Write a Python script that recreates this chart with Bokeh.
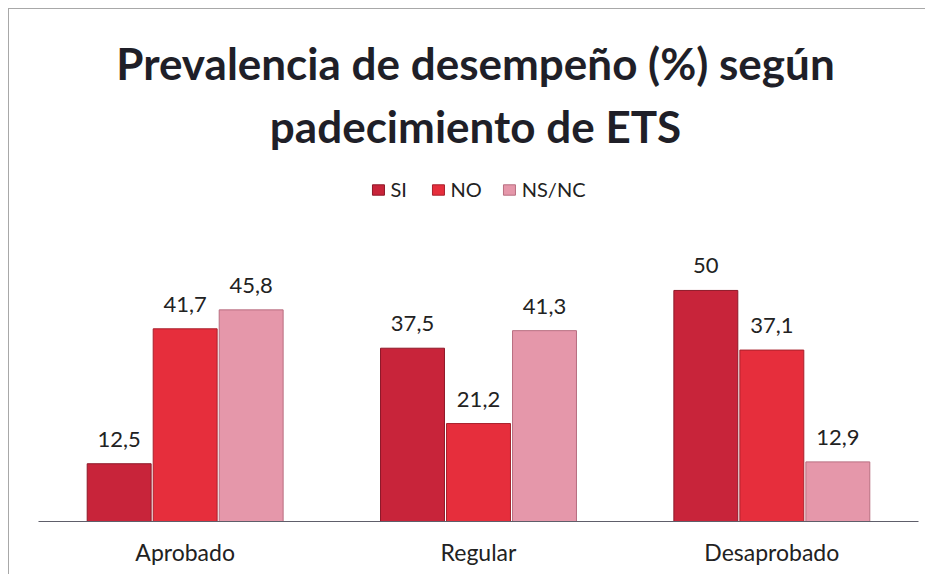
from bokeh.plotting import figure
from bokeh.models import ColumnDataSource, Legend, LegendItem, Label, FactorRange, Range1d
from bokeh.transform import dodge
from bokeh.core.properties import value
from bokeh.embed import file_html
from bokeh.resources import INLINE

categories = ["Aprobado", "Regular", "Desaprobado"]
series_names = ["SI", "NO", "NS/NC"]
si = [12.5, 37.5, 50]
no = [41.7, 21.2, 37.1]
nsnc = [45.8, 41.3, 12.9]
colors = ["#C8243A", "#E62E3C", "#E597AA"]
line_colors = ["#8E1828", "#A8202C", "#B86E80"]
title_lines = ["Prevalencia de desempeño (%) según", "padecimiento de ETS"]

FONT = "Lato"


def fmt(v):
    return f"{v:g}".replace(".", ",")


series = [si, no, nsnc]
data = {"cat": categories}
for name, vals in zip(series_names, series):
    data[name] = vals
    data[name + "_lbl"] = [fmt(v) for v in vals]
src = ColumnDataSource(data)

p = figure(width=917, height=566, x_range=FactorRange(*categories), y_range=Range1d(0, 110.8),
           output_backend="svg", toolbar_location=None,
           min_border_left=29, min_border_right=8, min_border_bottom=54, min_border_top=0)
p.margin = (8, 0, 0, 8)
p.styles = {"border-left": "1px solid #A8A8A8", "border-top": "1px solid #A8A8A8"}
p.outline_line_color = None
p.background_fill_color = "white"
p.border_fill_color = "white"
p.xgrid.visible = False
p.ygrid.visible = False
p.yaxis.visible = False

p.xaxis.axis_line_color = "#5E5E6A"
p.xaxis.axis_line_width = 1.2
p.xaxis.major_tick_line_color = None
p.xaxis.minor_tick_line_color = None
p.xaxis.major_label_text_font = FONT
p.xaxis.major_label_text_font_size = "23px"
p.xaxis.major_label_text_color = "#222222"
p.xaxis.major_label_standoff = 10
p.x_range.range_padding = 0

offsets = [-0.225, 0.0, 0.225]
items = []
for name, off, col, lc in zip(series_names, offsets, colors, line_colors):
    r = p.vbar(x=dodge("cat", off, range=p.x_range), top=name, width=0.218, bottom=0,
               source=src, fill_color=col, line_color=lc, line_width=1)
    p.text(x=dodge("cat", off, range=p.x_range), y=name, text=name + "_lbl", source=src,
           text_align="center", text_baseline="bottom", y_offset=-17,
           text_font=value(FONT), text_font_size="22px", text_color="#222222")
    items.append(LegendItem(label=name, renderers=[r]))

legend = Legend(items=items, orientation="horizontal", location="top_center",
                label_text_font=FONT, label_text_font_size="20px", label_text_color="#222222",
                glyph_width=15, glyph_height=13, label_standoff=5, spacing=20,
                padding=0, margin=168, border_line_color=None, background_fill_alpha=0)
p.add_layout(legend, "center")

for txt, ypos in zip(title_lines, [459, 396]):
    p.add_layout(Label(x=437, y=ypos, x_units="screen", y_units="screen", text=txt,
                       text_align="center", text_baseline="middle", text_font=FONT,
                       text_font_size="44px", text_font_style="bold", text_color="#1F1F28"))

open("out.html", "w").write(file_html(p, INLINE))
